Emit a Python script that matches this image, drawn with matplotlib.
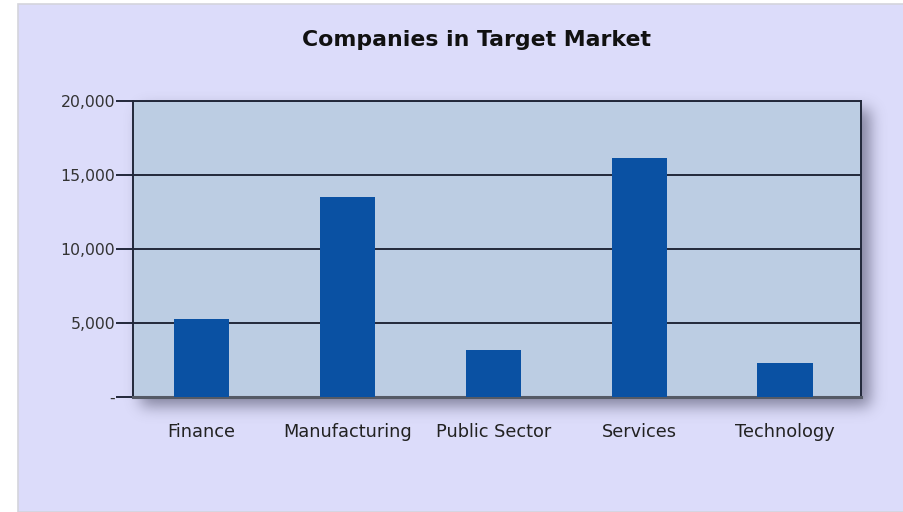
import numpy as np
import matplotlib.pyplot as plt
from matplotlib.patches import Rectangle
from matplotlib.ticker import FuncFormatter

# data
categories = ['Finance', 'Manufacturing', 'Public Sector', 'Services', 'Technology']
companies = [5250, 13500, 3150, 16150, 2300]
y_ticks = [0, 5000, 10000, 15000, 20000]

W, H = 904, 512
fig = plt.figure(figsize=(W / 100, H / 100), dpi=100)
fig.patch.set_facecolor('white')

# background layer in pixel coordinates
bg = fig.add_axes([0, 0, 1, 1], zorder=0)
bg.set_xlim(0, W)
bg.set_ylim(H, 0)
bg.axis('off')
bg.add_patch(Rectangle((18, 4), W - 18, H - 4, facecolor='#dcdcfa',
                       edgecolor='#d4d4dc', linewidth=1.2))

# soft drop shadow under the plot area
px_left, px_right, px_top, px_bottom = 133, 861, 101, 397
gy, gx = np.mgrid[0:H, 0:W]
mask = ((gx >= px_left + 8) & (gx <= px_right + 8) &
        (gy >= px_top + 8) & (gy <= px_bottom + 8)).astype(float)
k = np.exp(-0.5 * (np.arange(-24, 25) / 7.5) ** 2)
k /= k.sum()
blur = np.apply_along_axis(lambda r: np.convolve(r, k, mode='same'), 1, mask)
blur = np.apply_along_axis(lambda c: np.convolve(c, k, mode='same'), 0, blur)
shadow = np.zeros((H, W, 4))
shadow[..., :3] = np.array([0.28, 0.28, 0.38])
shadow[..., 3] = blur * 0.6
bg.imshow(shadow, extent=(0, W, H, 0), interpolation='bilinear', zorder=1)

bg.text(477, 40, 'Companies in Target Market', ha='center', va='center',
        fontsize=15.8, fontweight='bold', color='#111111')

# plot area
ax = fig.add_axes([px_left / W, 1 - px_bottom / H,
                   (px_right - px_left) / W, (px_bottom - px_top) / H], zorder=2)
ax.set_facecolor('#bccde3')
x = np.arange(len(categories))
ax.bar(x, companies, width=0.38, color='#0a51a3', zorder=3)

ax.set_xlim(-0.47, 4.52)
ax.set_ylim(0, 20000)
ax.set_yticks(y_ticks)
ax.yaxis.set_major_formatter(FuncFormatter(lambda v, p: '-' if v == 0 else f'{int(v):,}'))
ax.set_xticks(x)
ax.set_xticklabels(categories)

ax.grid(axis='y', color='#22283a', linewidth=1.4, zorder=1)
ax.set_axisbelow(True)
ax.tick_params(axis='y', length=12, width=1.4, color='#22283a', pad=1,
               labelsize=11.3, labelcolor='#333333')
ax.tick_params(axis='x', length=0, pad=19, labelsize=12.8, labelcolor='#222222')

for side in ['left', 'top', 'right']:
    ax.spines[side].set_color('#22283a')
    ax.spines[side].set_linewidth(1.4)
ax.spines['bottom'].set_color('#555a66')
ax.spines['bottom'].set_linewidth(2.2)

fig.savefig('out.png', dpi=100)
